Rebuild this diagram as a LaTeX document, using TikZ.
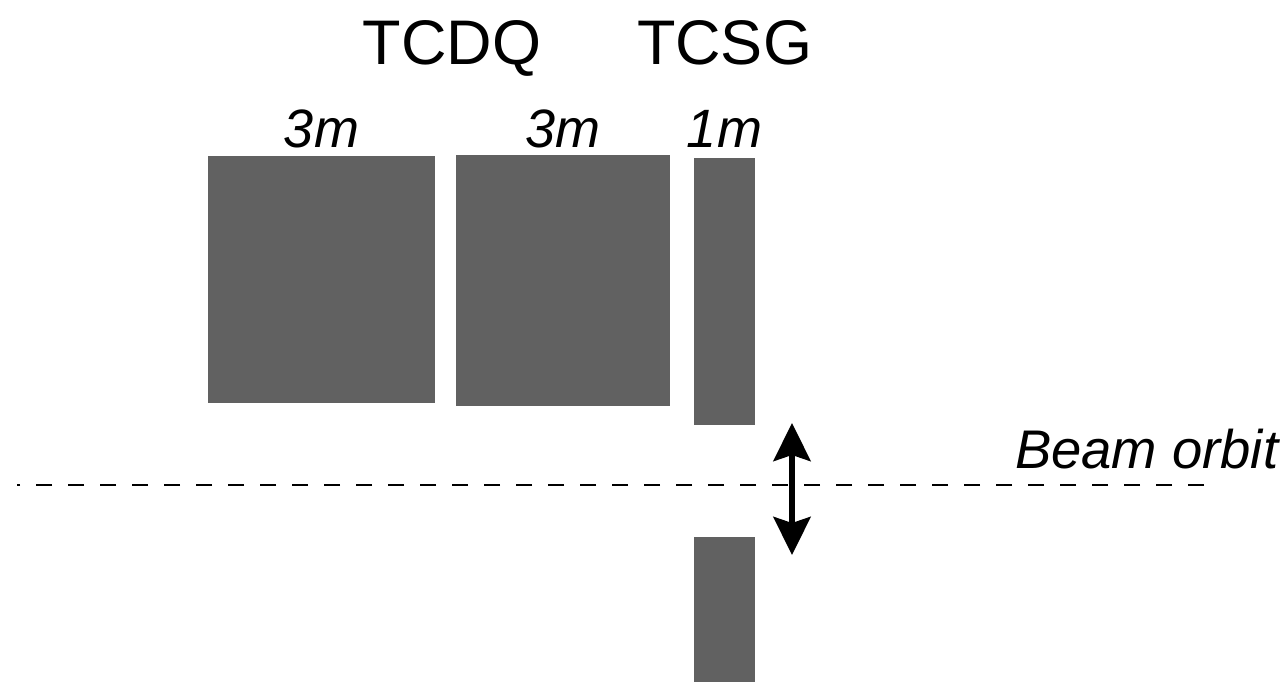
\documentclass[tikz,border=0pt]{standalone}
\usepackage{fontspec}
\setmainfont{Liberation Sans}
\usetikzlibrary{arrows.meta}
\begin{document}
\begin{tikzpicture}[x=1pt,y=-1pt,
  block/.style={fill=black!62, draw=none, inner sep=0pt, outer sep=0pt},
  title/.style={font=\fontsize{63}{70}\selectfont, anchor=base, inner sep=0pt},
  lenlabel/.style={font=\fontsize{54}{60}\selectfont\itshape, anchor=base, inner sep=0pt},
  orbit/.style={line width=2.8pt, dash pattern=on 16pt off 16pt},
  motion/.style={line width=6pt, {Stealth[width=37pt,length=38pt,inset=6pt]}-{Stealth[width=37pt,length=38pt,inset=6pt]}}]
\useasboundingbox (0,0) rectangle (1286,682);

% absorber blocks
\node[block, minimum width=227pt, minimum height=247pt] (dqa) at (321.5,279.5) {};
\node[block, minimum width=214pt, minimum height=251pt] (dqb) at (563,280.5) {};
\node[block, minimum width=61pt, minimum height=267pt] (sgup) at (724.5,291.5) {};
\node[block, minimum width=61pt, minimum height=145pt] (sgdn) at (724.5,609.5) {};

% titles
\node[title] (tcdq) at (452,65) {TCDQ};
\node[title] (tcsg) at (724.5,65) {TCSG};

% lengths
\node[lenlabel] (la) at (dqa.north |- 0,148) {3m};
\node[lenlabel] (lb) at (dqb.north |- 0,148) {3m};
\node[lenlabel] (lc) at (sgup.north |- 0,148) {1m};

% beam orbit
\coordinate (orbR) at (1204,485);
\coordinate (orbL) at (17,485);
\draw[orbit] (orbR) -- (orbL);
\node[font=\fontsize{54.4}{60}\selectfont\itshape, anchor=base west, inner sep=0pt] (beam) at (1015,468) {Beam orbit};

% jaw motion
\coordinate (mvT) at (792,423);
\coordinate (mvB) at (792,555);
\draw[motion] (mvT) -- (mvB);
\end{tikzpicture}
\end{document}
